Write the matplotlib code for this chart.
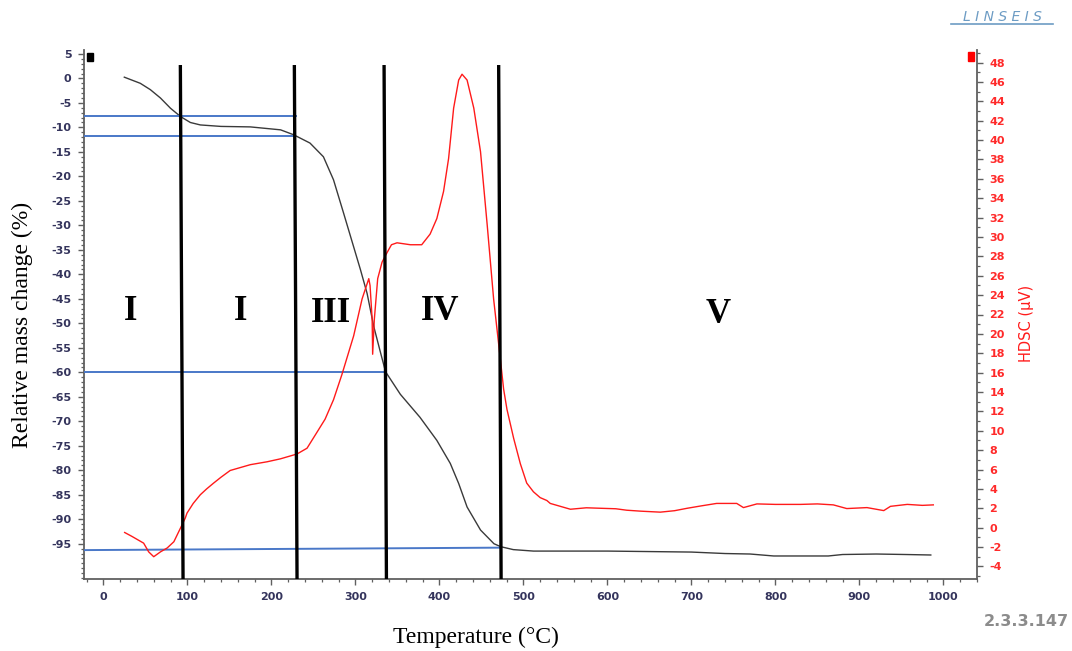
import matplotlib
matplotlib.use("Agg")
import matplotlib.pyplot as plt
from matplotlib.ticker import FixedLocator, MultipleLocator
from matplotlib.patches import Rectangle
from matplotlib.lines import Line2D

plt.rcParams["axes.unicode_minus"] = False

# ---------------- data ----------------
tg_temp = [25, 44, 56, 68, 80, 92, 103.6, 115.5, 140, 175, 211, 226.5, 246, 262, 274,
           286, 298, 306, 314, 322, 330, 336, 353.6, 377, 397, 413, 423, 433, 449,
           465, 473, 488, 512, 544, 600, 650, 700, 740, 770, 798, 830, 863, 880,
           920, 955, 985]
tg_mass = [0.25, -1.0, -2.3, -4.0, -6.1, -7.8, -9.0, -9.5, -9.8, -9.9, -10.5, -11.5,
           -13.2, -16.0, -20.7, -27.5, -34.4, -39.0, -43.9, -50.7, -56.0, -59.9,
           -64.5, -69.2, -73.9, -78.6, -82.7, -87.5, -92.2, -95.0, -95.6, -96.2,
           -96.5, -96.5, -96.5, -96.6, -96.7, -97.0, -97.1, -97.5, -97.5, -97.5,
           -97.2, -97.1, -97.2, -97.3]

dsc_temp = [25.4, 34, 42, 48, 54, 60, 68, 76, 84, 91.7, 97.6, 99.6, 107, 115.5, 123,
            131.3, 140, 151, 175, 195, 210.7, 230.5, 242.5, 254, 264, 274, 284, 298,
            308, 316, 317.5, 320, 320.6, 322.6, 326.6, 331.8, 337.8, 343, 349.6,
            365.5, 379, 389, 397, 405, 411, 417, 423, 427, 433, 441, 449, 457, 464.6,
            472.6, 476.5, 480.5, 488.5, 496.4, 504, 512, 520, 528, 532, 544, 556, 575,
            592, 610, 623, 640, 663, 680, 695, 712, 730, 754, 762, 778, 800, 830, 850,
            869, 885, 909, 929, 937, 957, 975, 988]
dsc_val = [-0.5, -0.9, -1.3, -1.6, -2.5, -3.0, -2.5, -2.1, -1.45, -0.07, 1.0, 1.5, 2.5,
           3.4, 4.0, 4.6, 5.2, 5.9, 6.5, 6.8, 7.1, 7.6, 8.2, 9.8, 11.2, 13.2, 15.8,
           19.8, 23.6, 25.7, 25.0, 21.5, 17.9, 21.5, 25.7, 27.4, 28.4, 29.2, 29.4,
           29.2, 29.2, 30.3, 31.9, 34.7, 38.1, 43.3, 46.2, 46.8, 46.2, 43.3, 38.8,
           31.2, 23.6, 17.4, 14.3, 12.2, 9.2, 6.6, 4.6, 3.7, 3.1, 2.8, 2.5, 2.2, 1.9,
           2.05, 2.0, 1.95, 1.8, 1.7, 1.6, 1.75, 2.0, 2.25, 2.5, 2.5, 2.07, 2.45, 2.4,
           2.4, 2.45, 2.35, 1.97, 2.07, 1.76, 2.2, 2.4, 2.3, 2.35]

# annotation lines (vertical section boundaries: top / bottom temperature)
vline_top_temp = [91.7, 227.4, 334.2, 470.6]
vline_bot_temp = [94.9, 230.6, 337.0, 473.5]
# horizontal reference lines: (mass at left, mass at right, right end temperature)
hline_left = [-7.66, -11.75, -60.0, -96.3]
hline_right = [-7.66, -11.75, -60.0, -95.8]
hline_end_temp = [231, 226.5, 335.7, 472.6]

section_labels = ["I", "I", "III", "IV", "V"]
section_temp = [32, 163, 271, 401, 732]
section_mass = [-47.5, -47.5, -48.0, -47.5, -48.3]

x_major = list(range(0, 1001, 100))
y_left_major = list(range(-95, 6, 5))
y_right_major = list(range(-4, 49, 2))

# ---------------- figure ----------------
W, H = 1072, 651
fig = plt.figure(figsize=(W / 100, H / 100), dpi=100)
L, R, T, B = 84, 977, 50, 579
ax = fig.add_axes([L / W, 1 - B / H, (R - L) / W, (B - T) / H])
ax2 = ax.twinx()

spine_col = "#606060"
lab_col = "#34345c"

ax.set_xlim(-23, 1040)
ax.set_ylim(-102.2, 5.8)
ax2.set_ylim(-5.3, 49.3)

ax.plot(tg_temp, tg_mass, color="#3a3a3a", lw=1.0, zorder=3)
ax2.plot(dsc_temp, dsc_val, color="#ff1a1a", lw=1.0, zorder=3)

# horizontal blue lines
for yl, yr, xe in zip(hline_left, hline_right, hline_end_temp):
    ax.plot([-23, xe], [yl, yr], color="#4a78c8", lw=1.4, zorder=4,
            solid_capstyle="butt")

# vertical black lines (x in data, y in axes fraction)
for xt, xb in zip(vline_top_temp, vline_bot_temp):
    ax2.plot([xb, xt], [0.0, 0.9716], color="black", lw=2.4, zorder=5,
             transform=ax2.get_xaxis_transform(), solid_capstyle="butt")

for lab, xt, ym in zip(section_labels, section_temp, section_mass):
    ax.text(xt, ym, lab, ha="center", va="center", fontsize=25,
            fontweight="bold", family="Liberation Serif", color="black", zorder=6)

# spines
for a in (ax, ax2):
    a.spines["top"].set_visible(False)
    for s in ("left", "right", "bottom"):
        a.spines[s].set_color(spine_col)
        a.spines[s].set_linewidth(1.3)
ax.spines["right"].set_visible(False)
ax2.spines["left"].set_visible(False)
ax2.spines["bottom"].set_visible(False)

ax.xaxis.set_major_locator(FixedLocator(x_major))
ax.xaxis.set_minor_locator(MultipleLocator(20))
ax.yaxis.set_major_locator(FixedLocator(y_left_major))
ax.yaxis.set_minor_locator(MultipleLocator(1))
ax2.yaxis.set_major_locator(FixedLocator(y_right_major))
ax2.yaxis.set_minor_locator(MultipleLocator(1))

ax.tick_params(axis="both", which="major", direction="out", length=4,
               width=1.0, color=spine_col, labelsize=8, pad=5)
ax.tick_params(axis="both", which="minor", direction="out", length=2.2,
               width=0.9, color=spine_col)
ax.tick_params(axis="x", labelcolor=lab_col)
ax.tick_params(axis="y", labelcolor=lab_col)
ax2.tick_params(axis="y", which="major", direction="out", length=4, width=1.0,
                color=spine_col, labelsize=8, pad=5, labelcolor="#ff2a2a")
ax2.tick_params(axis="y", which="minor", direction="out", length=2.2, width=0.9,
                color=spine_col)
for lbl in ax.get_xticklabels() + ax.get_yticklabels() + ax2.get_yticklabels():
    lbl.set_fontweight("bold")

# axis labels
fig.text(22 / W, 1 - 325 / H, "Relative mass change (%)", rotation=90,
         ha="center", va="center", fontsize=17, family="Liberation Serif")
fig.text(476 / W, 1 - 637 / H, "Temperature (°C)", ha="center", va="center",
         fontsize=17, family="Liberation Serif")
fig.text(1027 / W, 1 - 323 / H, "HDSC (µV)", rotation=90, ha="center",
         va="center", fontsize=10.5, color="#ff1a1a", family="DejaVu Sans")

# small square markers
fig.patches.append(Rectangle((87 / W, 1 - 61 / H), 6 / W, 8 / H,
                             transform=fig.transFigure, color="black"))
fig.patches.append(Rectangle((968 / W, 1 - 61 / H), 6 / W, 9 / H,
                             transform=fig.transFigure, color="#ff0000"))

# logo
fig.text(1002 / W, 1 - 17 / H, "L I N S E I S", ha="center", va="center",
         fontsize=10, fontstyle="italic", color="#6d9cc4", family="DejaVu Sans")
fig.lines.append(Line2D([951 / W, 1053 / W], [1 - 24 / H, 1 - 24 / H],
                        transform=fig.transFigure, color="#6d9cc4", lw=1.2))

fig.text(1069 / W, 1 - 621 / H, "2.3.3.147", ha="right", va="center",
         fontsize=11.5, fontweight="bold", color="#8c8c8c", family="DejaVu Sans")

fig.savefig("out.png", dpi=100, facecolor="white")
